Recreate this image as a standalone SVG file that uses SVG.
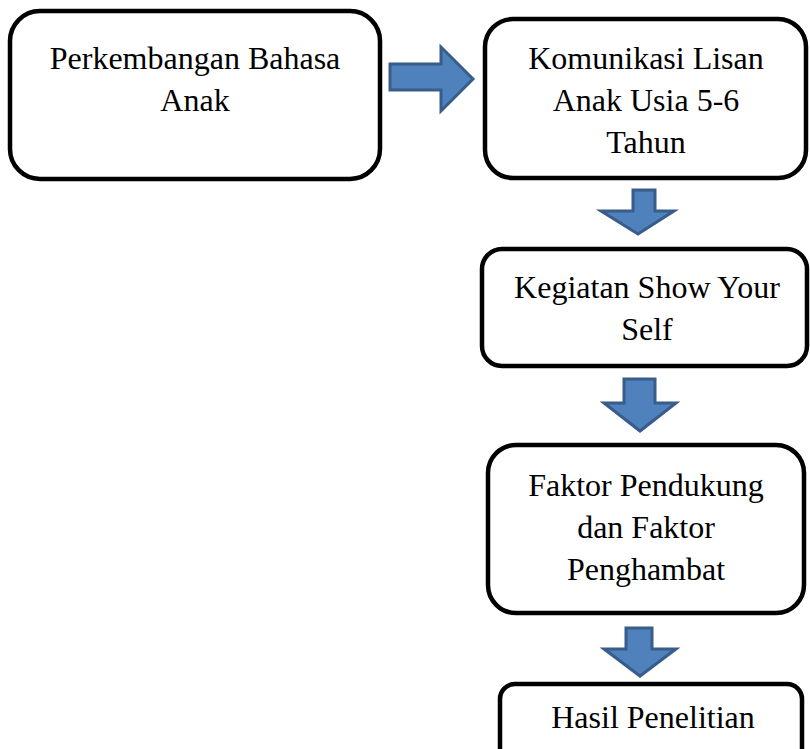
<svg xmlns="http://www.w3.org/2000/svg" width="810" height="749" viewBox="0 0 810 749">
<style>
.box{fill:#fff;stroke:#000;stroke-width:4.5}
.arr{fill:#4F81BD;stroke:#385D8A;stroke-width:3;stroke-linejoin:miter}
.t{font-family:'Liberation Serif','Times New Roman',serif;font-size:32px;fill:#000;text-anchor:middle}
</style>
<rect width="810" height="749" fill="#fff"/>
<g id="connectors">
<polygon class="arr" points="390,64 441,64 441,47 473,79 441,111 441,90 390,90"/>
<polygon class="arr" points="633,190 655,190 655,211 674,211 638,234 601,211 633,211"/>
<polygon class="arr" points="624,379 655,379 655,403 676,403 640,431 604,403 624,403"/>
<polygon class="arr" points="626,628 652,628 652,649 676,649 640,676 604,649 626,649"/>
</g>
<g id="n1">
<rect class="box" x="10" y="11" width="370" height="168" rx="30"/>
<text class="t" x="195" y="69">Perkembangan Bahasa</text>
<text class="t" x="195" y="111">Anak</text>
</g>
<g id="n2">
<rect class="box" x="485" y="19" width="321" height="159" rx="28"/>
<text class="t" x="646" y="69">Komunikasi Lisan</text>
<text class="t" x="646" y="111">Anak Usia 5-6</text>
<text class="t" x="646" y="153">Tahun</text>
</g>
<g id="n3">
<rect class="box" x="482" y="249" width="325" height="117" rx="20"/>
<text class="t" x="647" y="298">Kegiatan Show Your</text>
<text class="t" x="647" y="340">Self</text>
</g>
<g id="n4">
<rect class="box" x="488" y="445" width="316" height="168" rx="28"/>
<text class="t" x="646" y="496">Faktor Pendukung</text>
<text class="t" x="646" y="538">dan Faktor</text>
<text class="t" x="646" y="580">Penghambat</text>
</g>
<g id="n5">
<rect class="box" x="500" y="684" width="302" height="90" rx="15"/>
<text class="t" x="653" y="728">Hasil Penelitian</text>
</g>
</svg>
